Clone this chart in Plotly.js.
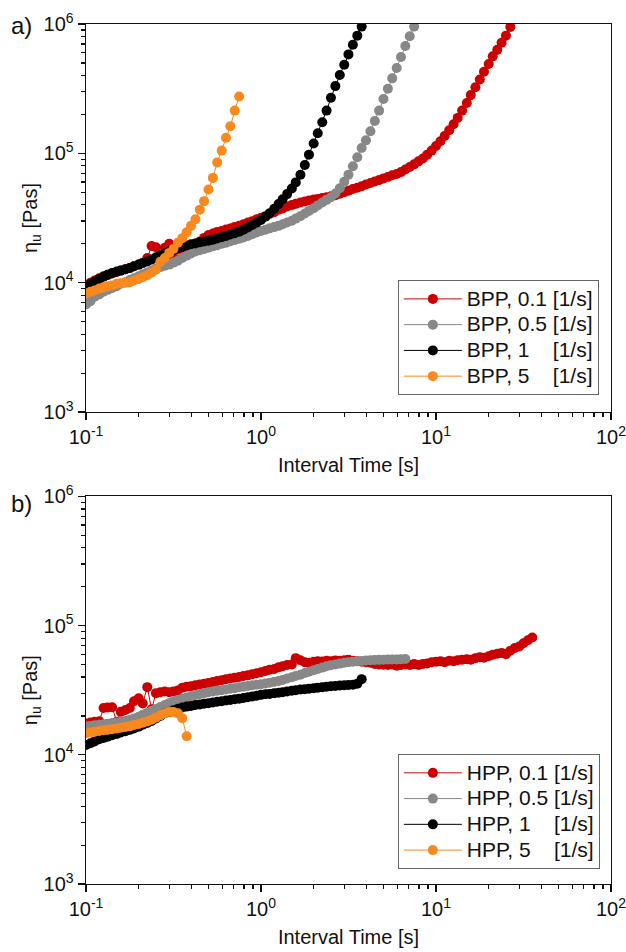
<!DOCTYPE html>
<html>
<head>
<meta charset="utf-8">
<script src="https://cdn.plot.ly/plotly-3.0.1.min.js"></script>
<style>html,body{margin:0;padding:0;background:#fff;}#chart{width:626px;height:952px;}</style>
</head>
<body>
<div id="chart"></div>
<script>
// Interval time sampling points [s] (shared by all series)
const timeS = [0.100,0.106,0.112,0.119,0.126,0.133,0.141,0.150,0.158,0.168,
  0.178,0.188,0.200,0.211,0.224,0.237,0.251,0.266,0.282,0.299,
  0.316,0.335,0.355,0.376,0.398,0.422,0.447,0.473,0.501,0.531,
  0.562,0.596,0.631,0.668,0.708,0.750,0.794,0.841,0.891,0.944,
  1.00,1.06,1.12,1.19,1.26,1.33,1.41,1.50,1.58,1.68,
  1.78,1.88,2.00,2.11,2.24,2.37,2.51,2.66,2.82,2.99,
  3.16,3.35,3.55,3.76,3.98,4.22,4.47,4.73,5.01,5.31,
  5.62,5.96,6.31,6.68,7.08,7.50,7.94,8.41,8.91,9.44,
  10.0,10.6,11.2,11.9,12.6,13.3,14.1,15.0,15.8,16.8,
  17.8,18.8,20.0,21.1,22.4,23.7,25.1,26.6,28.2,29.9,
  31.6,33.5,35.5];

// ---- a) BPP ----
const bpp01 = [9.6e3,1.0e4,1.04e4,1.08e4,1.12e4,1.15e4,1.18e4,1.21e4,1.24e4,1.27e4,
  1.30e4,1.34e4,1.38e4,1.42e4,1.55e4,1.92e4,1.88e4,1.34e4,1.86e4,2.0e4,
  1.55e4,1.8e4,1.85e4,1.9e4,1.95e4,2.0e4,2.08e4,2.22e4,2.34e4,2.40e4,
  2.47e4,2.51e4,2.58e4,2.62e4,2.70e4,2.75e4,2.83e4,2.92e4,2.99e4,3.09e4,
  3.18e4,3.27e4,3.40e4,3.51e4,3.66e4,3.75e4,3.88e4,3.98e4,4.07e4,4.17e4,
  4.24e4,4.32e4,4.40e4,4.44e4,4.52e4,4.57e4,4.66e4,4.74e4,4.87e4,5.0e4,
  5.14e4,5.30e4,5.42e4,5.57e4,5.75e4,5.89e4,6.06e4,6.21e4,6.40e4,6.56e4,
  6.78e4,6.92e4,7.16e4,7.5e4,7.85e4,8.22e4,8.67e4,9.12e4,9.77e4,1.05e5,
  1.14e5,1.24e5,1.36e5,1.51e5,1.68e5,1.88e5,2.14e5,2.45e5,2.82e5,3.24e5,
  3.72e5,4.27e5,4.9e5,5.62e5,6.31e5,7.16e5,8.13e5,9.5e5];
const bpp05 = [6.8e3,7.2e3,7.8e3,8.1e3,8.5e3,8.8e3,9.1e3,9.4e3,9.8e3,1.01e4,
  1.05e4,1.08e4,1.12e4,1.16e4,1.20e4,1.24e4,1.29e4,1.32e4,1.35e4,1.38e4,
  1.43e4,1.48e4,1.55e4,1.62e4,1.68e4,1.74e4,1.78e4,1.82e4,1.86e4,1.91e4,
  1.95e4,2.0e4,2.04e4,2.09e4,2.14e4,2.19e4,2.24e4,2.30e4,2.37e4,2.44e4,
  2.51e4,2.57e4,2.63e4,2.69e4,2.75e4,2.83e4,2.92e4,3.01e4,3.13e4,3.27e4,
  3.43e4,3.59e4,3.76e4,3.96e4,4.17e4,4.37e4,4.57e4,4.90e4,5.37e4,6.03e4,
  6.84e4,7.94e4,9.33e4,1.10e5,1.26e5,1.48e5,1.78e5,2.14e5,2.63e5,3.16e5,
  3.80e5,4.57e5,5.56e5,6.76e5,8.04e5,9.55e5];
const bpp1 = [9.3e3,9.8e3,1.02e4,1.07e4,1.11e4,1.15e4,1.19e4,1.22e4,1.24e4,1.27e4,
  1.30e4,1.34e4,1.38e4,1.42e4,1.46e4,1.51e4,1.57e4,1.63e4,1.69e4,1.75e4,
  1.79e4,1.85e4,1.89e4,1.94e4,1.98e4,2.01e4,2.05e4,2.08e4,2.11e4,2.15e4,
  2.20e4,2.25e4,2.30e4,2.36e4,2.41e4,2.48e4,2.57e4,2.67e4,2.79e4,2.91e4,
  3.05e4,3.24e4,3.44e4,3.73e4,4.05e4,4.42e4,4.84e4,5.35e4,5.96e4,6.84e4,
  8.13e4,9.77e4,1.19e5,1.43e5,1.74e5,2.14e5,2.69e5,3.31e5,4.03e5,4.84e5,
  5.82e5,6.92e5,8.13e5,9.55e5];
const bpp5 = [8.3e3,8.5e3,8.7e3,9.0e3,9.2e3,9.4e3,9.5e3,9.8e3,9.9e3,1.0e4,
  1.01e4,1.04e4,1.07e4,1.10e4,1.14e4,1.20e4,1.26e4,1.45e4,1.55e4,1.70e4,
  1.82e4,2.04e4,2.21e4,2.45e4,2.75e4,3.09e4,3.67e4,4.27e4,5.25e4,6.46e4,
  8.51e4,1.05e5,1.32e5,1.62e5,2.14e5,2.75e5];

// ---- b) HPP ----
const hpp01 = [1.75e4,1.78e4,1.80e4,1.82e4,2.30e4,2.32e4,2.33e4,1.80e4,2.15e4,2.22e4,
  2.30e4,2.60e4,2.74e4,2.50e4,3.34e4,2.25e4,3.0e4,3.05e4,3.09e4,3.05e4,
  3.09e4,3.15e4,3.30e4,3.37e4,3.40e4,3.45e4,3.50e4,3.55e4,3.60e4,3.66e4,
  3.72e4,3.78e4,3.85e4,3.90e4,3.95e4,4.0e4,4.07e4,4.12e4,4.20e4,4.28e4,
  4.35e4,4.45e4,4.55e4,4.62e4,4.75e4,4.85e4,4.95e4,5.0e4,5.6e4,5.4e4,
  5.2e4,5.15e4,5.25e4,5.3e4,5.28e4,5.35e4,5.3e4,5.38e4,5.35e4,5.4e4,
  5.43e4,5.35e4,5.3e4,5.25e4,5.2e4,5.15e4,5.05e4,5.0e4,4.97e4,4.95e4,
  5.0e4,4.9e4,4.95e4,5.0e4,4.95e4,5.05e4,4.95e4,5.05e4,5.1e4,5.2e4,
  5.25e4,5.3e4,5.2e4,5.35e4,5.3e4,5.4e4,5.45e4,5.5e4,5.45e4,5.6e4,
  5.7e4,5.65e4,5.8e4,5.95e4,6.05e4,6.15e4,6.0e4,6.4e4,6.7e4,6.9e4,
  7.3e4,7.7e4,8.1e4];
const hpp05 = [1.66e4,1.67e4,1.69e4,1.71e4,1.72e4,1.74e4,1.76e4,1.78e4,1.80e4,1.83e4,
  1.86e4,1.91e4,1.97e4,2.04e4,2.11e4,2.19e4,2.26e4,2.34e4,2.43e4,2.51e4,
  2.58e4,2.65e4,2.72e4,2.78e4,2.84e4,2.90e4,2.95e4,3.0e4,3.05e4,3.09e4,
  3.13e4,3.16e4,3.20e4,3.24e4,3.28e4,3.33e4,3.37e4,3.41e4,3.45e4,3.49e4,
  3.52e4,3.56e4,3.61e4,3.67e4,3.73e4,3.80e4,3.89e4,3.98e4,4.07e4,4.17e4,
  4.29e4,4.39e4,4.52e4,4.62e4,4.73e4,4.84e4,4.93e4,5.01e4,5.08e4,5.15e4,
  5.20e4,5.25e4,5.30e4,5.33e4,5.37e4,5.40e4,5.42e4,5.43e4,5.45e4,5.46e4,
  5.47e4,5.47e4,5.50e4,5.52e4];
const hpp1 = [1.19e4,1.23e4,1.27e4,1.32e4,1.35e4,1.38e4,1.42e4,1.45e4,1.49e4,1.52e4,
  1.56e4,1.60e4,1.65e4,1.71e4,1.76e4,1.83e4,1.91e4,2.0e4,2.10e4,2.15e4,
  2.21e4,2.27e4,2.32e4,2.36e4,2.39e4,2.43e4,2.45e4,2.48e4,2.51e4,2.54e4,
  2.57e4,2.60e4,2.63e4,2.66e4,2.69e4,2.72e4,2.75e4,2.79e4,2.83e4,2.87e4,
  2.91e4,2.94e4,2.96e4,2.99e4,3.02e4,3.05e4,3.09e4,3.13e4,3.16e4,3.20e4,
  3.22e4,3.25e4,3.27e4,3.31e4,3.34e4,3.37e4,3.39e4,3.41e4,3.44e4,3.45e4,
  3.47e4,3.48e4,3.55e4,3.85e4];
const hpp5 = [1.47e4,1.49e4,1.51e4,1.53e4,1.55e4,1.56e4,1.58e4,1.60e4,1.62e4,1.64e4,
  1.66e4,1.70e4,1.73e4,1.77e4,1.81e4,1.87e4,1.94e4,2.02e4,2.10e4,2.15e4,
  2.14e4,2.10e4,1.92e4,1.39e4];

const labelsA = ['BPP, 0.1 [1/s]','BPP, 0.5 [1/s]','BPP, 1\u00a0\u00a0\u00a0\u00a0[1/s]','BPP, 5\u00a0\u00a0\u00a0\u00a0[1/s]'];
const labelsB = ['HPP, 0.1 [1/s]','HPP, 0.5 [1/s]','HPP, 1\u00a0\u00a0\u00a0\u00a0[1/s]','HPP, 5\u00a0\u00a0\u00a0\u00a0[1/s]'];
const colors = ['#cc0000','#888888','#000000','#f7891f'];

const xTickVals = [0.1,1,10,100];
const xTickText = ['10<sup>-1</sup>','10<sup>0</sup>','10<sup>1</sup>','10<sup>2</sup>'];
const xMinor = [0.2,0.3,0.4,0.5,0.6,0.7,0.8,0.9,2,3,4,5,6,7,8,9,20,30,40,50,60,70,80,90];
const yTickVals = [1e3,1e4,1e5,1e6];
const yTickText = ['10<sup>3</sup>','10<sup>4</sup>','10<sup>5</sup>','10<sup>6</sup>'];
const yMinor = [2e3,3e3,4e3,5e3,6e3,7e3,8e3,9e3,2e4,3e4,4e4,5e4,6e4,7e4,8e4,9e4,2e5,3e5,4e5,5e5,6e5,7e5,8e5,9e5];

const FONT = '"Liberation Sans", Arial, sans-serif';

function mk(y, i, name, xa, ya, leg) {
  return {
    type: 'scatter', mode: 'lines+markers',
    name: '<span style="font-size:21px">' + name + '</span>',
    x: timeS.slice(0, y.length), y: y,
    xaxis: xa, yaxis: ya, legend: leg,
    line: {color: colors[i], width: 1},
    marker: {color: colors[i], size: 10, line: {width: 0}}
  };
}
const seriesA = [bpp01, bpp05, bpp1, bpp5];
const seriesB = [hpp01, hpp05, hpp1, hpp5];
const data = [];
seriesA.forEach((s, i) => data.push(mk(s, i, labelsA[i], 'x', 'y', 'legend')));
seriesB.forEach((s, i) => data.push(mk(s, i, labelsB[i], 'x2', 'y2', 'legend2')));

function xax(anchor) {
  return {
    type: 'log', range: [-1, 2], domain: [0, 1], anchor: anchor,
    tickmode: 'array', tickvals: xTickVals, ticktext: xTickText,
    ticklabeloverflow: 'allow',
    ticks: 'outside', ticklen: 7, tickwidth: 1.3, tickcolor: '#111',
    minor: {tickmode: 'array', tickvals: xMinor, ticks: 'outside', ticklen: 4, tickwidth: 1.2, tickcolor: '#111', showgrid: false},
    showline: true, mirror: true, linecolor: '#111', linewidth: 1.4,
    showgrid: false, zeroline: false,
    tickfont: {family: FONT, size: 20, color: '#111'},
    title: {text: 'Interval Time [s]', font: {family: FONT, size: 20, color: '#111'}, standoff: 10}
  };
}
function yax(anchor, dom) {
  return {
    type: 'log', range: [3, 6], domain: dom, anchor: anchor,
    tickmode: 'array', tickvals: yTickVals, ticktext: yTickText,
    ticklabeloverflow: 'allow',
    ticks: 'outside', ticklen: 7, tickwidth: 1.3, tickcolor: '#111',
    minor: {tickmode: 'array', tickvals: yMinor, ticks: 'outside', ticklen: 4, tickwidth: 1.2, tickcolor: '#111', showgrid: false},
    showline: true, mirror: true, linecolor: '#111', linewidth: 1.4,
    showgrid: false, zeroline: false,
    tickfont: {family: FONT, size: 20, color: '#111'},
    title: {text: '\u03b7<sub>u</sub> [Pas]', font: {family: FONT, size: 20, color: '#111'}, standoff: 0}
  };
}
function leg(top) {
  return {
    x: 0.594, y: top, xanchor: 'left', yanchor: 'top',
    bgcolor: '#ffffff', bordercolor: '#666', borderwidth: 1,
    font: {family: FONT, size: 17.5, color: '#111'},
    itemwidth: 58, tracegroupgap: 0
  };
}

const layout = {
  width: 626, height: 952,
  margin: {l: 86, r: 15, t: 24, b: 68},
  paper_bgcolor: '#ffffff', plot_bgcolor: '#ffffff',
  font: {family: FONT, size: 20, color: '#111'},
  showlegend: true,
  xaxis: xax('y'), yaxis: yax('x', [0.5488, 1]),
  xaxis2: xax('y2'), yaxis2: yax('x2', [0, 0.4507]),
  legend: leg(0.7023), legend2: leg(0.1512),
  annotations: [
    {text: 'a)', xref: 'paper', yref: 'paper', x: -0.122, y: 0.9988, xanchor: 'center', yanchor: 'middle', showarrow: false, font: {family: FONT, size: 24, color: '#111'}},
    {text: 'b)', xref: 'paper', yref: 'paper', x: -0.122, y: 0.4419, xanchor: 'center', yanchor: 'middle', showarrow: false, font: {family: FONT, size: 24, color: '#111'}}
  ]
};

Plotly.newPlot('chart', data, layout, {displayModeBar: false, staticPlot: true});
</script>
</body>
</html>
